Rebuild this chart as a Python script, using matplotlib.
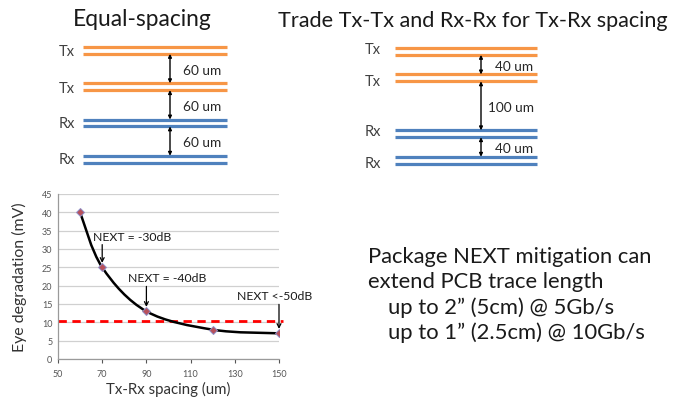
import numpy as np
import matplotlib
matplotlib.use("Agg")
import matplotlib.pyplot as plt
from matplotlib.path import Path
from matplotlib.patches import PathPatch

plt.rcParams['font.family'] = ['Lato', 'DejaVu Sans']

# chart data
spacing = [60, 70, 90, 120, 150]
degradation = [40, 25, 13, 8, 7]
limit_mv = 10.3
x_ticks = [50, 70, 90, 110, 130, 150]
y_ticks = list(range(0, 50, 5))

notes = ["NEXT = -30dB", "NEXT = -40dB", "NEXT <-50dB"]
note_idx = [1, 2, 4]

# diagram data (um)
equal_gaps = [60, 60, 60]
trade_gaps = [40, 100, 40]
trace_names = ["Tx", "Tx", "Rx", "Rx"]

message = ["Package NEXT mitigation can",
           "extend PCB trace length",
           "up to 2\u201d (5cm) @ 5Gb/s",
           "up to 1\u201d (2.5cm) @ 10Gb/s"]

ORANGE = "#f79646"
BLUE = "#4f81bd"
trace_colors = [ORANGE, ORANGE, BLUE, BLUE]

W, H = 688, 402
fig = plt.figure(figsize=(W / 100, H / 100), dpi=100)
ov = fig.add_axes([0, 0, 1, 1])
ov.set_xlim(0, W)
ov.set_ylim(H, 0)
ov.axis('off')

scale = 0.49   # px per um
pair_sep = 14  # um between the two lines of a pair


def draw_stack(x0, x1, top, gaps, name_x, arrow_x, label_x, label_dy):
    pairs = []
    y = top
    for i in range(4):
        pairs.append((y, y + pair_sep * scale))
        y += pair_sep * scale
        if i < len(gaps):
            y += gaps[i] * scale
    for i, ((ya, yb), c, n) in enumerate(zip(pairs, trace_colors, trace_names)):
        ov.hlines([ya, yb], x0, x1, colors=c, lw=2.3)
        ov.text(name_x, (ya + yb) / 2 + label_dy[i], n, ha='right', va='center',
                fontsize=10.5, color='#404040')
    for i, g in enumerate(gaps):
        y1, y2 = pairs[i][1], pairs[i + 1][0]
        ov.annotate('', xy=(arrow_x, y2), xytext=(arrow_x, y1),
                    arrowprops=dict(arrowstyle='<|-|>', lw=1, color='black',
                                    mutation_scale=5, shrinkA=0, shrinkB=0))
        ov.text(label_x[i], (y1 + y2) / 2 + 1, f"{g} um", ha='left', va='center',
                fontsize=9.8, color='#262626')


ov.text(142, 20, "Equal-spacing", ha='center', va='center', fontsize=16.4, color='#1a1a1a')
draw_stack(83, 227, 48, equal_gaps, 75, 170, [183, 183, 183], [1, 1, 0, 0])

ov.text(473, 21, "Trade Tx-Tx and Rx-Rx for Tx-Rx spacing", ha='center', va='center',
        fontsize=15.6, color='#1a1a1a')
draw_stack(395, 537, 49, trade_gaps, 381, 481, [495, 488, 495], [-2, 3, -3, 3])

# right text
for i, line in enumerate(message):
    x = 368 if i < 2 else 388
    ov.text(x, 257 + i * 25.3, line, ha='left', va='center', fontsize=15.8, color='#1a1a1a')

# chart
ax = fig.add_axes([58 / W, 1 - 360 / H, 221 / W, 165 / H])
ax.set_xlim(50, 150)
ax.set_ylim(0, 45)
ax.set_xticks(x_ticks)
ax.set_yticks(y_ticks)
ax.grid(axis='y', color='#d0d0d0', lw=0.9)
ax.set_axisbelow(True)
for s in ['top', 'right']:
    ax.spines[s].set_visible(False)
for s in ['left', 'bottom']:
    ax.spines[s].set_color('#9a9a9a')
    ax.spines[s].set_linewidth(0.9)
ax.tick_params(labelsize=6.5, colors='#555555', length=3, width=0.8)
ax.tick_params(axis='x', pad=4)
ax.tick_params(axis='y', length=0, pad=4)
ax.set_xlabel("Tx-Rx spacing (um)", fontsize=10.8, color='#333333', labelpad=2)
ax.set_ylabel("Eye degradation (mV)", fontsize=11.4, color='#333333', labelpad=11)

# smoothed line (Catmull-Rom as cubic Bezier segments)
xs = np.array(spacing, float)
ys = np.array(degradation, float)
verts = [(xs[0], ys[0])]
codes = [Path.MOVETO]
n = len(xs)
for i in range(n - 1):
    p0 = np.array([xs[max(i - 1, 0)], ys[max(i - 1, 0)]])
    p1 = np.array([xs[i], ys[i]])
    p2 = np.array([xs[i + 1], ys[i + 1]])
    p3 = np.array([xs[min(i + 2, n - 1)], ys[min(i + 2, n - 1)]])
    c1 = p1 + (p2 - p0) / 6
    c2 = p2 - (p3 - p1) / 6
    verts += [tuple(c1), tuple(c2), tuple(p2)]
    codes += [Path.CURVE4] * 3
ax.add_patch(PathPatch(Path(verts, codes), fill=False, lw=1.8, color='black', zorder=3))
ax.plot(spacing, degradation, ls='none', marker='D', ms=3.8, mfc='#b8505a',
        mec='#9090c8', mew=0.7, zorder=4)

ax.plot([50, 152], [limit_mv, limit_mv], color='red', lw=2, ls=(0, (3, 2)),
        clip_on=False, zorder=2)

text_pos = [(65.8, 33.5), (81.7, 22.1), (131, 17.2)]
for label, k, (tx, ty) in zip(notes, note_idx, text_pos):
    ax.text(tx, ty, label, fontsize=8.8, color='#1a1a1a', va='center', ha='left')
    ax.annotate('', xy=(spacing[k], degradation[k] + 1.2), xytext=(spacing[k], ty - 2.3),
                arrowprops=dict(arrowstyle='->', lw=0.9, color='black',
                                mutation_scale=7, shrinkA=0, shrinkB=0),
                annotation_clip=False)

fig.savefig("out.png", dpi=100)
